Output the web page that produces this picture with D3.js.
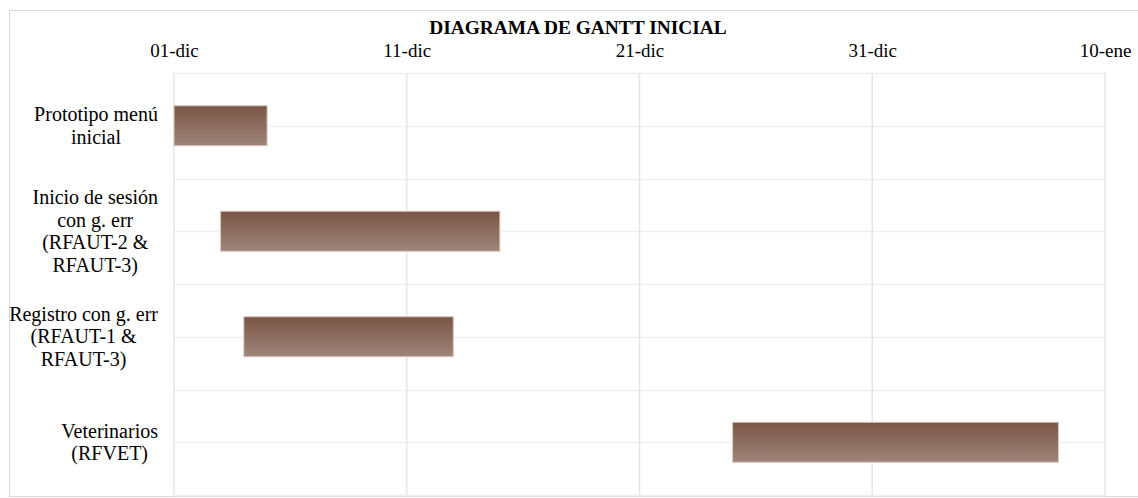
<!DOCTYPE html>
<html>
<head>
<meta charset="utf-8">
<script src="https://cdn.jsdelivr.net/npm/d3@7"></script>
<style>
  html, body { margin: 0; padding: 0; background: #fff; }
  svg { display: block; font-family: "Liberation Serif", "Times New Roman", serif; }
</style>
</head>
<body>
<svg id="chart" width="1138" height="498"></svg>
<script>
// Tasks of the initial Gantt plan (lines of each label as shown on the axis)
const tasks = ["Prototipo menú inicial", "Inicio de sesión con g. err (RFAUT-2 & RFAUT-3)",
               "Registro con g. err (RFAUT-1 & RFAUT-3)", "Veterinarios (RFVET)"];
const taskLines = [
  ["Prototipo menú", "inicial"],
  ["Inicio de sesión", "con g. err", "(RFAUT-2 &", "RFAUT-3)"],
  ["Registro con g. err", "(RFAUT-1 &", "RFAUT-3)"],
  ["Veterinarios", "(RFVET)"]
];
const startDates = ["2023-12-01", "2023-12-03", "2023-12-04", "2023-12-25"];
const durations = [4, 12, 9, 14];   // days
const tickDates = ["2023-12-01", "2023-12-11", "2023-12-21", "2023-12-31", "2024-01-10"];
const tickLabels = ["01-dic", "11-dic", "21-dic", "31-dic", "10-ene"];

const parse = d3.utcParse("%Y-%m-%d");
const DAY = 86400000;
const FONT = "'Liberation Serif', 'Times New Roman', serif";

const svg = d3.select("#chart");
const plot = { left: 174, right: 1105, top: 73, bottom: 495 };

// Outer chart frame
svg.append("rect")
  .attr("x", 9.5).attr("y", 10.5).attr("width", 1140).attr("height", 486)
  .attr("fill", "none").attr("stroke", "#d9d9d9").attr("stroke-width", 1);

const x = d3.scaleUtc()
  .domain([parse(tickDates[0]), parse(tickDates[tickDates.length - 1])])
  .range([plot.left, plot.right]);

const y = d3.scaleBand()
  .domain(tasks)
  .range([plot.top, plot.bottom])
  .paddingInner(0).paddingOuter(0);

// Horizontal gridlines: band edges and band centres
const hLines = [];
tasks.forEach(t => { hLines.push(y(t)); hLines.push(y(t) + y.bandwidth() / 2); });
hLines.push(plot.bottom);
svg.append("g").selectAll("line").data(hLines).join("line")
  .attr("x1", plot.left).attr("x2", plot.right)
  .attr("y1", d => Math.round(d) + 0.5).attr("y2", d => Math.round(d) + 0.5)
  .attr("stroke", "#efefef").attr("stroke-width", 1.5);

// Vertical gridlines at the date ticks
svg.append("g").selectAll("line").data(tickDates).join("line")
  .attr("x1", d => x(parse(d))).attr("x2", d => x(parse(d)))
  .attr("y1", plot.top).attr("y2", plot.bottom)
  .attr("stroke", "#e6e6e6").attr("stroke-width", 1.5);

// Top date axis
const xAxis = d3.axisTop(x)
  .tickValues(tickDates.map(parse))
  .tickFormat((d, i) => tickLabels[i])
  .tickSize(0).tickPadding(0);
const gx = svg.append("g").attr("transform", "translate(0,57)").call(xAxis);
gx.attr("font-family", FONT);
gx.select(".domain").remove();
gx.selectAll("text")
  .attr("dy", 0)
  .attr("font-family", FONT)
  .attr("font-size", 19).attr("fill", "#000");

// Title
svg.append("text")
  .attr("x", 578).attr("y", 34)
  .attr("text-anchor", "middle")
  .attr("font-family", FONT)
  .attr("font-weight", "bold").attr("font-size", 19.4)
  .text("DIAGRAMA DE GANTT INICIAL");

// Bar gradient
const defs = svg.append("defs");
const grad = defs.append("linearGradient").attr("id", "barGrad")
  .attr("x1", 0).attr("y1", 0).attr("x2", 0).attr("y2", 1);
grad.append("stop").attr("offset", "0%").attr("stop-color", "#7a5546");
grad.append("stop").attr("offset", "100%").attr("stop-color", "#9e857a");

// Task bars
const barH = 40;
svg.append("g").selectAll("rect").data(tasks).join("rect")
  .attr("x", (d, i) => x(parse(startDates[i])))
  .attr("width", (d, i) => x(new Date(parse(startDates[i]).getTime() + durations[i] * DAY)) - x(parse(startDates[i])))
  .attr("y", d => y(d) + y.bandwidth() / 2 - barH / 2)
  .attr("height", barH)
  .attr("fill", "url(#barGrad)")
  .attr("stroke", "#dcc8c0").attr("stroke-width", 1);

// Category labels: each block right-aligned, lines centred inside it
const lineH = 22.5;
const labelRight = 158;
const labels = svg.append("g").attr("font-size", 20).attr("font-family", FONT).attr("fill", "#000");
tasks.forEach((t, i) => {
  const lines = taskLines[i];
  const cy = y(t) + y.bandwidth() / 2;
  const g = labels.append("g");
  const texts = g.selectAll("text").data(lines).join("text")
    .attr("text-anchor", "middle")
    .attr("y", (d, j) => cy + (j - (lines.length - 1) / 2) * lineH + 6.5)
    .text(d => d);
  let maxW = 0;
  texts.each(function () { maxW = Math.max(maxW, this.getComputedTextLength()); });
  texts.attr("x", labelRight - maxW / 2);
});
</script>
</body>
</html>
